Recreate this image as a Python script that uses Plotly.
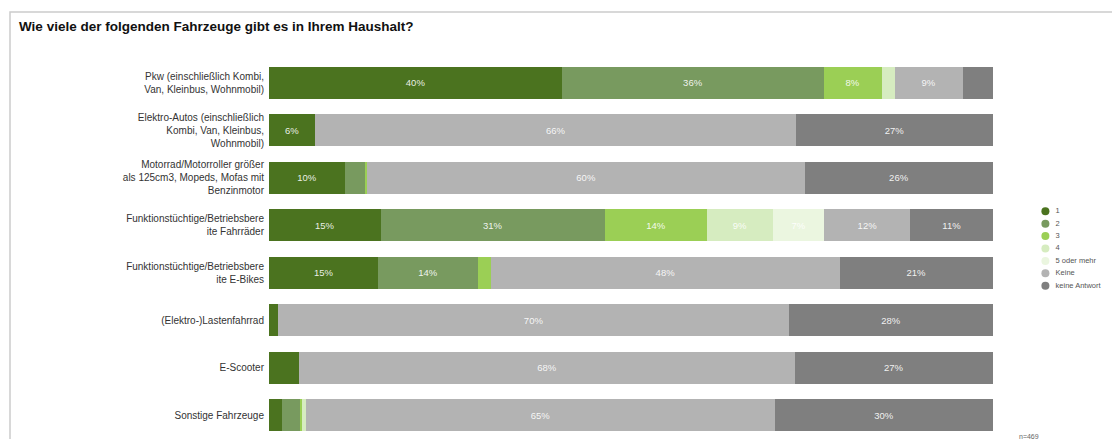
import plotly.graph_objects as go

categories = [
    "Pkw (einschließlich Kombi,<br>Van, Kleinbus, Wohnmobil)",
    "Elektro-Autos (einschließlich<br>Kombi, Van, Kleinbus,<br>Wohnmobil)",
    "Motorrad/Motorroller größer<br>als 125cm3, Mopeds, Mofas mit<br>Benzinmotor",
    "Funktionstüchtige/Betriebsbere<br>ite Fahrräder",
    "Funktionstüchtige/Betriebsbere<br>ite E-Bikes",
    "(Elektro-)Lastenfahrrad",
    "E-Scooter",
    "Sonstige Fahrzeuge",
]

series_names = ["1", "2", "3", "4", "5 oder mehr", "Keine", "keine Antwort"]
v_1 = [40.5, 6.4, 10.5, 15.4, 15.1, 1.3, 4.2, 1.8]
v_2 = [36.1, 0.0, 2.8, 31.0, 13.7, 0.0, 0.0, 2.5]
v_3 = [8.0, 0.0, 0.3, 14.1, 1.9, 0.0, 0.0, 0.3]
v_4 = [1.8, 0.0, 0.0, 9.1, 0.0, 0.0, 0.0, 0.5]
v_5 = [0.0, 0.0, 0.0, 7.1, 0.0, 0.0, 0.0, 0.0]
v_keine = [9.4, 66.4, 60.4, 11.9, 48.1, 70.5, 68.4, 64.8]
v_antwort = [4.2, 27.2, 26.0, 11.4, 21.2, 28.2, 27.4, 30.1]
series_values = [v_1, v_2, v_3, v_4, v_5, v_keine, v_antwort]
colors = ["#4b731f", "#789a5f", "#9bcf55", "#d6ecc0", "#ebf6e0", "#b3b3b3", "#7f7f7f"]

legend_labels = series_names
note = "n=469"
title = "Wie viele der folgenden Fahrzeuge gibt es in Ihrem Haushalt?"

# page body has an 8px margin; work in screen pixels and convert
OFF = 8
W, H = 1104, 431
ML, MR, MT, MB = 269 - OFF, 2, 51, 0
plot_w = W - ML - MR
plot_h = H - MT - MB
main_right = 993


def px_x(sx):
    return (sx - OFF - ML) / plot_w


def px_y(sy):
    return (H - MB - (sy - OFF)) / plot_h


fig = go.Figure()
for name, vals, col in zip(series_names, series_values, colors):
    fig.add_trace(go.Bar(
        y=categories, x=vals, orientation="h", name=name,
        marker=dict(color=col, line=dict(width=0)),
        text=[f"{round(v)}%" if v >= 5 else "" for v in vals],
        textposition="inside", insidetextanchor="middle",
        textangle=0, constraintext="none",
        textfont=dict(color="rgba(255,255,255,0.9)", size=9.5, family="Liberation Sans, Arial"),
        showlegend=False, hoverinfo="skip",
    ))

# legend drawn as a small scatter on its own axes
fig.add_trace(go.Scatter(
    x=[0.15] * len(legend_labels), y=list(range(len(legend_labels))),
    mode="markers+text", text=["  " + t for t in legend_labels], textposition="middle right",
    marker=dict(color=colors, size=8),
    textfont=dict(size=7.5, color="#555555", family="Liberation Sans, Arial"),
    xaxis="x2", yaxis="y2", showlegend=False, hoverinfo="skip", cliponaxis=False,
))

fig.update_layout(
    width=W, height=H,
    barmode="stack", bargap=0.32,
    margin=dict(l=ML, r=MR, t=MT, b=MB),
    paper_bgcolor="white", plot_bgcolor="white",
    xaxis=dict(domain=[0, px_x(main_right)], range=[0, 100], visible=False, fixedrange=True),
    yaxis=dict(autorange="reversed", showgrid=False, showline=False, zeroline=False,
               ticks="", ticklabelstandoff=4,
               tickfont=dict(size=10, color="#333333", family="Liberation Sans, Arial")),
    xaxis2=dict(domain=[px_x(1034), 1.0], range=[0, 1], visible=False, anchor="y2"),
    yaxis2=dict(domain=[px_y(292), px_y(205)], range=[6.5, -0.5],
                visible=False, anchor="x2"),
    shapes=[dict(type="rect", xref="paper", yref="paper",
                 x0=px_x(10), x1=px_x(1140),
                 y0=px_y(470), y1=px_y(12),
                 line=dict(color="#cccccc", width=1.5), layer="below")],
    annotations=[
        dict(text=f"<b>{title}</b>", xref="paper", yref="paper",
             x=px_x(17), y=px_y(26), xanchor="left", yanchor="middle",
             showarrow=False, font=dict(size=13.5, color="#111111", family="Liberation Sans, Arial")),
        dict(text=note, xref="paper", yref="paper",
             x=px_x(1017), y=px_y(436), xanchor="left", yanchor="middle",
             showarrow=False, font=dict(size=7, color="#666666", family="Liberation Sans, Arial")),
    ],
)

fig.write_html("out.html")
